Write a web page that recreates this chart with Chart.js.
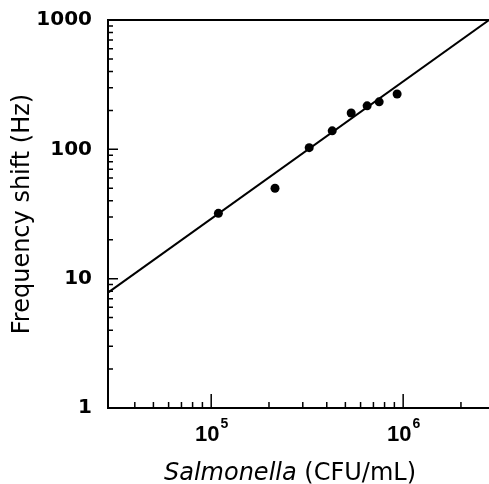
<!DOCTYPE html>
<html>
<head>
<meta charset="utf-8">
<script src="https://cdn.jsdelivr.net/npm/chart.js@4/dist/chart.umd.min.js"></script>
<style>
  html, body { margin: 0; padding: 0; background: #fff; overflow: hidden; }
  #wrap { position: relative; width: 489px; height: 484px; overflow: hidden; }
  #c { display: block; }
  #xtitle { position: absolute; left: 290px; top: 460px; transform: translateX(-50%);
    white-space: nowrap; font-family: "DejaVu Sans"; font-size: 24px; line-height: 24px; color: #000; }
</style>
</head>
<body>
<div id="wrap">
  <canvas id="c" width="489" height="484"></canvas>
  <div id="xtitle"><i>Salmonella</i> (CFU/mL)</div>
</div>
<script>
// Data
const concentration = [1.09e5, 2.15e5, 3.24e5, 4.27e5, 5.36e5, 6.49e5, 7.5e5, 9.3e5];
const frequencyShift = [32, 50, 103, 139, 191, 217, 233, 268];
const fitX = [2.9e4, 2.8e6];
const fitY = [7.8, 1000];

const xMajorTicks = [1e5, 1e6];
const xMajorExp = ['5', '6'];
const xMinorTicks = [4e4, 5e4, 6e4, 7e4, 8e4, 9e4, 2e5, 3e5, 4e5, 5e5, 6e5, 7e5, 8e5, 9e5, 2e6];
const yMajorTicks = [1, 10, 100, 1000];
const yMajorLabels = ['1', '10', '100', '1000'];
const yMinorTicks = [2,3,4,5,6,7,8,9,20,30,40,50,60,70,80,90,200,300,400,500,600,700,800,900];

const innerTicks = {
  id: 'innerTicks',
  afterDatasetsDraw(chart) {
    const ctx = chart.ctx, a = chart.chartArea;
    const xs = chart.scales.x, ys = chart.scales.y;
    ctx.save();
    ctx.strokeStyle = '#000';
    ctx.lineWidth = 1.5;
    ctx.beginPath();
    xMajorTicks.forEach(v => { const p = xs.getPixelForValue(v); ctx.moveTo(p, a.bottom); ctx.lineTo(p, a.bottom - 14); });
    xMinorTicks.forEach(v => { const p = xs.getPixelForValue(v); ctx.moveTo(p, a.bottom); ctx.lineTo(p, a.bottom - 6); });
    yMajorTicks.forEach(v => { const p = ys.getPixelForValue(v); ctx.moveTo(a.left, p); ctx.lineTo(a.left + 10, p); });
    yMinorTicks.forEach(v => { const p = ys.getPixelForValue(v); ctx.moveTo(a.left, p); ctx.lineTo(a.left + 5, p); });
    ctx.stroke();
    ctx.lineWidth = 2;
    ctx.beginPath();
    ctx.moveTo(a.left, a.top); ctx.lineTo(a.right, a.top);
    ctx.stroke();
    // x tick labels: 10 with superscript exponent
    ctx.fillStyle = '#000';
    ctx.textBaseline = 'alphabetic';
    const bigFont = 'bold 22px "Liberation Sans"', supFont = 'bold 14px "Liberation Sans"';
    xMajorTicks.forEach((v, i) => {
      const p = xs.getPixelForValue(v);
      ctx.font = bigFont;
      const w1 = ctx.measureText('10').width;
      ctx.font = supFont;
      const w2 = ctx.measureText(xMajorExp[i]).width;
      const x0 = p - (w1 + w2) / 2;
      ctx.font = bigFont;
      ctx.fillText('10', x0, a.bottom + 33);
      ctx.font = supFont;
      ctx.fillText(xMajorExp[i], x0 + w1 + 1, a.bottom + 20);
    });
    ctx.restore();
  }
};

new Chart(document.getElementById('c'), {
  type: 'scatter',
  data: {
    datasets: [
      {
        data: fitX.map((x, i) => ({ x, y: fitY[i] })),
        showLine: true, borderColor: '#000', borderWidth: 2,
        pointRadius: 0, fill: false, clip: false
      },
      {
        data: concentration.map((x, i) => ({ x, y: frequencyShift[i] })),
        backgroundColor: '#000', borderColor: '#000',
        pointRadius: 4.5, borderWidth: 0
      }
    ]
  },
  options: {
    responsive: false,
    animation: false,
    events: [],
    layout: { autoPadding: false, padding: { top: 20, right: 0, left: 0, bottom: 0 } },
    plugins: { legend: { display: false }, tooltip: { enabled: false } },
    scales: {
      x: {
        type: 'logarithmic', position: 'bottom',
        min: 2.9e4, max: 2.8e6,
        grid: { display: false, drawTicks: false },
        border: { display: true, color: '#000', width: 2 },
        afterBuildTicks: s => { s.ticks = xMajorTicks.map(v => ({ value: v, major: true })); },
        afterFit: s => { s.height = 76; s.paddingLeft = 0; s.paddingRight = 0; },
        ticks: { display: false }
      },
      y: {
        type: 'logarithmic', position: 'left',
        min: 1, max: 1000,
        grid: { display: false, drawTicks: false },
        border: { display: true, color: '#000', width: 2 },
        afterBuildTicks: s => { s.ticks = yMajorTicks.map(v => ({ value: v, major: true })); },
        afterFit: s => { s.width = 108; s.paddingTop = 0; s.paddingBottom = 0; },
        title: {
          display: true, text: 'Frequency shift (Hz)', color: '#000',
          font: { family: 'DejaVu Sans', size: 24 },
          padding: { top: 8, bottom: 0 }
        },
        ticks: {
          autoSkip: false, padding: 16, color: '#000',
          font: { family: 'DejaVu Sans', size: 20, weight: 'bold' },
          callback: v => { const i = yMajorTicks.indexOf(v); return i >= 0 ? yMajorLabels[i] : ''; }
        }
      }
    }
  },
  plugins: [innerTicks]
});
</script>
</body>
</html>
